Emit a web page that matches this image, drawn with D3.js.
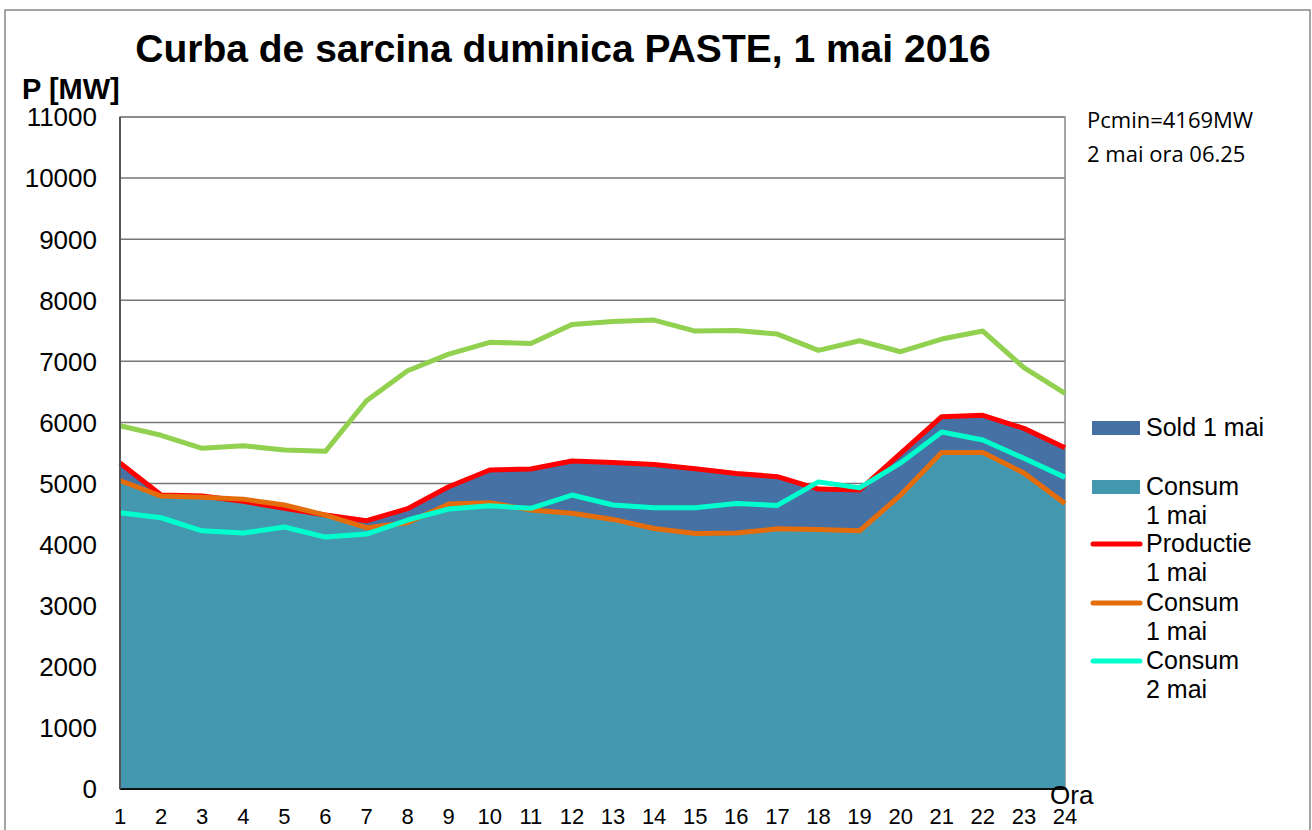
<!DOCTYPE html>
<html>
<head>
<meta charset="utf-8">
<script src="https://cdn.jsdelivr.net/npm/d3@7"></script>
<style>
  body { margin: 0; background: #fff; }
  svg { display: block; font-family: "Liberation Sans", Arial, sans-serif; }
</style>
</head>
<body>
<svg id="chart" width="1312" height="830"></svg>
<script>
// hours on the x axis
let hours = d3.range(1, 25);
let yTicks = d3.range(0, 11001, 1000);

// series (MW)
let consum1 = [5050, 4795, 4775, 4745, 4648, 4484, 4277, 4359, 4664, 4686, 4566, 4515,
    4413, 4264, 4182, 4190, 4259, 4248, 4227, 4812, 5510, 5510, 5173, 4675];
let productie1 = [5337, 4812, 4795, 4709, 4594, 4484, 4391, 4588, 4948, 5221, 5237, 5368,
    5346, 5313, 5243, 5166, 5112, 4910, 4894, 5494, 6094, 6116, 5903, 5586];
let consum2 = [4522, 4440, 4227, 4190, 4288, 4124, 4173, 4403, 4583, 4637, 4594, 4812,
    4648, 4604, 4604, 4675, 4642, 5027, 4929, 5337, 5843, 5712, 5413, 5101];
let productie2 = [5946, 5790, 5576, 5619, 5548, 5527, 6355, 6846, 7119, 7311, 7294, 7605,
    7654, 7676, 7496, 7506, 7447, 7180, 7338, 7158, 7365, 7496, 6896, 6476];
// sold = productie - consum
let sold1 = productie1.map((p, i) => p - consum1[i]);

let svg = d3.select('#chart');

// outer frame
svg.append('rect')
    .attr('x', 5).attr('y', 10)
    .attr('width', 1305).attr('height', 830)
    .attr('fill', 'none')
    .attr('stroke', '#888').attr('stroke-width', 1.5);

let plotLeft = 120, plotRight = 1065, plotTop = 117, plotBottom = 789;

let x = d3.scaleLinear().domain([1, 24]).range([plotLeft, plotRight]);
let y = d3.scaleLinear().domain([0, 11000]).range([plotBottom, plotTop]);

// gridlines
svg.append('g')
    .selectAll('line')
    .data(yTicks.filter(d => d > 0))
    .enter().append('line')
    .attr('x1', plotLeft).attr('x2', plotRight)
    .attr('y1', d => y(d)).attr('y2', d => y(d))
    .attr('stroke', '#777').attr('stroke-width', 1.5);

// plot border
svg.append('rect')
    .attr('x', plotLeft).attr('y', plotTop)
    .attr('width', plotRight - plotLeft).attr('height', plotBottom - plotTop)
    .attr('fill', 'none')
    .attr('stroke', '#888').attr('stroke-width', 1.5);

// stacked areas
let stackData = hours.map((h, i) => ({h: h, c: consum1[i], s: sold1[i]}));

let areaConsum = d3.area()
    .x(d => x(d.h))
    .y0(y(0))
    .y1(d => y(d.c));

let areaSold = d3.area()
    .x(d => x(d.h))
    .y0(d => y(d.c))
    .y1(d => y(d.c + d.s));

svg.append('path')
    .datum(stackData)
    .attr('d', areaConsum)
    .attr('fill', '#4398B0');

svg.append('path')
    .datum(stackData)
    .attr('d', areaSold)
    .attr('fill', '#4571A5');

// lines
let line = d3.line()
    .x((d, i) => x(hours[i]))
    .y(d => y(d));

let lineSeries = [
    {values: productie1, color: '#FF0000'},
    {values: consum1, color: '#E46C0A'},
    {values: consum2, color: '#00FFCC'},
    {values: productie2, color: '#92D050'}
];

svg.append('g')
    .selectAll('path')
    .data(lineSeries)
    .enter().append('path')
    .attr('d', d => line(d.values))
    .attr('fill', 'none')
    .attr('stroke', d => d.color)
    .attr('stroke-width', 5)
    .attr('stroke-linejoin', 'round');

// axes lines
svg.append('line')
    .attr('x1', plotLeft).attr('x2', plotRight)
    .attr('y1', plotBottom).attr('y2', plotBottom)
    .attr('stroke', '#111').attr('stroke-width', 2);
svg.append('line')
    .attr('x1', plotLeft).attr('x2', plotLeft)
    .attr('y1', plotTop).attr('y2', plotBottom)
    .attr('stroke', '#555').attr('stroke-width', 2);

// y tick labels
svg.append('g')
    .selectAll('text')
    .data(yTicks)
    .enter().append('text')
    .attr('x', 97)
    .attr('y', d => y(d))
    .attr('dy', '0.36em')
    .attr('text-anchor', 'end')
    .attr('font-size', 26)
    .text(d => d);

// x tick labels
svg.append('g')
    .selectAll('text')
    .data(hours)
    .enter().append('text')
    .attr('x', d => x(d))
    .attr('y', 824)
    .attr('text-anchor', 'middle')
    .attr('font-size', 22)
    .text(d => d);

// titles
svg.append('text')
    .attr('x', 563).attr('y', 62)
    .attr('text-anchor', 'middle')
    .attr('font-size', 39)
    .attr('font-weight', 'bold')
    .text('Curba de sarcina duminica PASTE, 1 mai 2016');

svg.append('text')
    .attr('x', 22).attr('y', 99)
    .attr('font-size', 29)
    .attr('font-weight', 'bold')
    .text('P [MW]');

svg.append('text')
    .attr('x', 1050).attr('y', 804)
    .attr('font-size', 26)
    .text('Ora');

// annotation
let note = svg.append('text')
    .attr('font-family', '"Open Sans", "Noto Sans", sans-serif')
    .attr('font-size', 22);
note.append('tspan').attr('x', 1087).attr('y', 128).text('Pcmin=4169MW');
note.append('tspan').attr('x', 1087).attr('y', 162).text('2 mai ora 06.25');

// legend
let legendItems = [
    {lines: ['Sold 1 mai'], color: '#4571A5', type: 'area', y: 436},
    {lines: ['Consum', '1 mai'], color: '#4398B0', type: 'area', y: 495},
    {lines: ['Productie', '1 mai'], color: '#FF0000', type: 'line', y: 552},
    {lines: ['Consum', '1 mai'], color: '#E46C0A', type: 'line', y: 611},
    {lines: ['Consum', '2 mai'], color: '#00FFCC', type: 'line', y: 669}
];

let legend = svg.append('g')
    .selectAll('g')
    .data(legendItems)
    .enter().append('g');

legend.filter(d => d.type == 'area').append('rect')
    .attr('x', 1092).attr('y', d => d.y - 15)
    .attr('width', 48).attr('height', 14)
    .attr('fill', d => d.color);

legend.filter(d => d.type == 'line').append('line')
    .attr('x1', 1093).attr('x2', 1140)
    .attr('y1', d => d.y - 8).attr('y2', d => d.y - 8)
    .attr('stroke', d => d.color)
    .attr('stroke-width', 5)
    .attr('stroke-linecap', 'round');

legend.append('text')
    .attr('font-size', 25)
    .each(function (d) {
        let t = d3.select(this);
        d.lines.forEach((s, i) => {
            t.append('tspan').attr('x', 1146).attr('y', d.y + i * 29).text(s);
        });
    });
</script>
</body>
</html>
